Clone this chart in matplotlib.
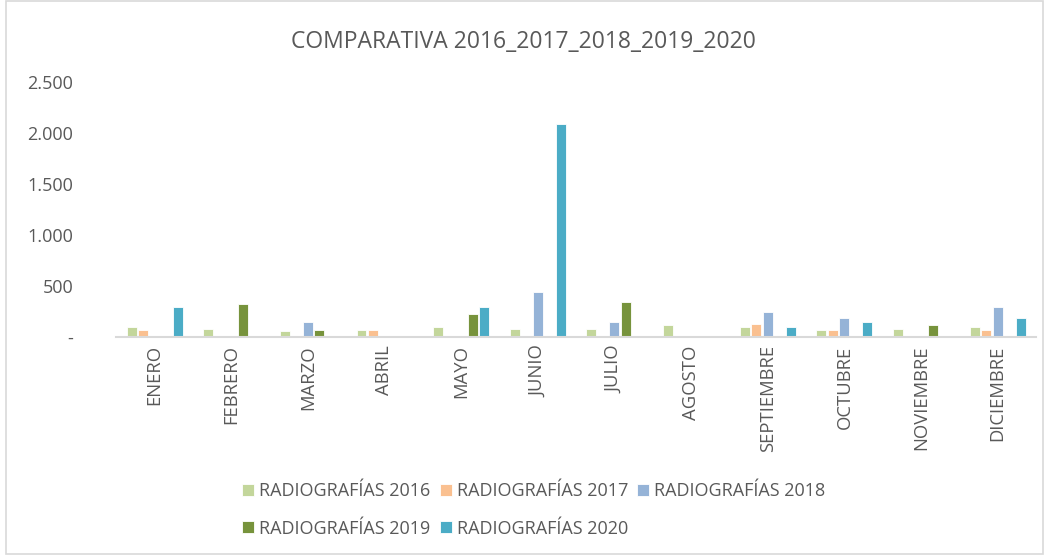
import numpy as np
import matplotlib.pyplot as plt
from matplotlib.ticker import FuncFormatter, MultipleLocator
from matplotlib.patches import Rectangle

meses = ['ENERO', 'FEBRERO', 'MARZO', 'ABRIL', 'MAYO', 'JUNIO', 'JULIO',
         'AGOSTO', 'SEPTIEMBRE', 'OCTUBRE', 'NOVIEMBRE', 'DICIEMBRE']
rx2016 = [95, 82, 60, 72, 95, 82, 82, 114, 101, 72, 82, 95]
rx2017 = [72, 0, 0, 72, 0, 0, 0, 0, 124, 72, 0, 72]
rx2018 = [0, 0, 147, 0, 0, 437, 147, 0, 241, 186, 0, 290]
rx2019 = [0, 320, 72, 0, 225, 0, 342, 0, 0, 0, 114, 0]
rx2020 = [290, 0, 0, 0, 290, 2090, 0, 0, 95, 147, 0, 186]
series = [rx2016, rx2017, rx2018, rx2019, rx2020]
etiquetas = ['RADIOGRAFÍAS 2016', 'RADIOGRAFÍAS 2017', 'RADIOGRAFÍAS 2018',
             'RADIOGRAFÍAS 2019', 'RADIOGRAFÍAS 2020']
colores = ['#c3d69b', '#fac090', '#95b3d7', '#77933c', '#4bacc6']

gris = '#595959'
plt.rcParams['font.family'] = ['Open Sans', 'DejaVu Sans']

fig = plt.figure(figsize=(10.47, 5.56), dpi=100)
ax = fig.add_axes([0.111, 0.394, 0.8785, 0.4585])

x = np.arange(len(meses))
paso = 0.15
ancho = 0.13
barras = []
for i, (vals, lab, col) in enumerate(zip(series, etiquetas, colores)):
    barras.append(ax.bar(x + (i - 2) * paso, vals, ancho, color=col, label=lab,
                         edgecolor='white', linewidth=0.6))

ax.set_xlim(-0.5, len(meses) - 0.5)
ax.set_ylim(0, 2500)
ax.yaxis.set_major_locator(MultipleLocator(500))
ax.yaxis.set_major_formatter(FuncFormatter(
    lambda v, p: '-' if v == 0 else f'{int(v):,}'.replace(',', '.')))
ax.set_xticks(x)
ax.set_xticklabels(meses, rotation=90, fontsize=13.3, color=gris)
ax.tick_params(axis='y', labelsize=13, labelcolor=gris, length=0, pad=31)
ax.tick_params(axis='x', length=0, pad=6)
for s in ['top', 'right', 'left']:
    ax.spines[s].set_visible(False)
ax.spines['bottom'].set_color('#d9d9d9')
ax.spines['bottom'].set_linewidth(1.5)

fig.text(0.5, 0.924, 'COMPARATIVA 2016_2017_2018_2019_2020', ha='center',
         va='center', fontsize=16.5, color=gris)

# orden por filas: 2016 2017 2018 / 2019 2020
orden = [0, 3, 1, 4, 2]
fig.legend([barras[i] for i in orden], [etiquetas[i] for i in orden],
           loc='center', bbox_to_anchor=(0.51, 0.083), ncol=3,
           frameon=False, fontsize=13, labelcolor=gris, handlelength=0.65,
           handleheight=0.65, handletextpad=0.3, columnspacing=0.5,
           labelspacing=1.1)

fig.patches.append(Rectangle((0.006, 0.004), 0.99, 0.995, transform=fig.transFigure,
                             fill=False, edgecolor='#d9d9d9', linewidth=1.2))

fig.savefig('out.png', dpi=100)
